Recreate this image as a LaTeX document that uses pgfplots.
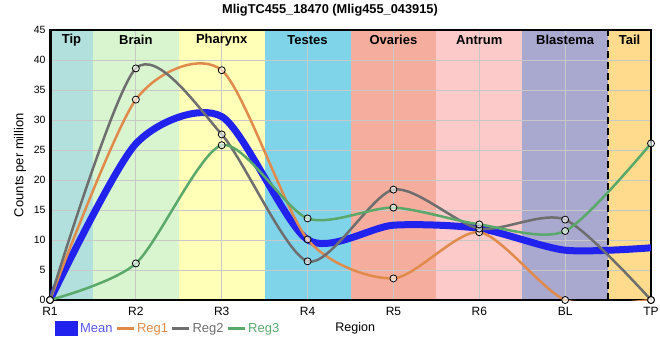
\documentclass[border=0pt]{standalone}
\usepackage{pgfplots}
\pgfplotsset{compat=1.18}
\usepackage{fontspec}
\setmainfont{Liberation Sans}
\definecolor{tipc}{HTML}{B2E0DC}
\definecolor{brainc}{HTML}{D8F5D0}
\definecolor{pharc}{HTML}{FFFFB8}
\definecolor{testc}{HTML}{80D4EA}
\definecolor{ovac}{HTML}{F5AE9E}
\definecolor{antc}{HTML}{FDCACA}
\definecolor{blac}{HTML}{A9A8CF}
\definecolor{tailc}{HTML}{FEDB8D}
\definecolor{meanc}{HTML}{2222EE}
\definecolor{reg1c}{HTML}{E08B4C}
\definecolor{reg2c}{HTML}{6E6E6E}
\definecolor{reg3c}{HTML}{5BA86B}
\definecolor{gridc}{HTML}{C8C8C8}
\begin{document}
\begin{tikzpicture}[x=1pt,y=1pt]
\path[use as bounding box] (0,0) rectangle (660,360);
\node[font=\bfseries\fontsize{12.8}{14}\selectfont] at (330,350) {MligTC455\_18470 (Mlig455\_043915)};
% background bands (region colours)
\fill[tipc] (50,60) rectangle (92.93,330);
\fill[brainc] (92.93,60) rectangle (178.79,330);
\fill[pharc] (178.79,60) rectangle (264.64,330);
\fill[testc] (264.64,60) rectangle (350.5,330);
\fill[ovac] (350.5,60) rectangle (436.36,330);
\fill[antc] (436.36,60) rectangle (522.21,330);
\fill[blac] (522.21,60) rectangle (608.07,330);
\fill[tailc] (608.07,60) rectangle (651,330);
\begin{axis}[
  at={(50pt,60pt)}, anchor=south west,
  width=601pt, height=270pt, scale only axis,
  xmin=0, xmax=7, ymin=0, ymax=45,
  xtick={0,...,7}, xticklabels={R1,R2,R3,R4,R5,R6,BL,TP},
  ytick={0,5,...,45},
  grid=major, grid style={draw=gridc, line width=1pt},
  major tick length=0pt,
  axis line style={line width=1.2pt},
  /pgf/number format/assume math mode=true,
  yticklabel style={font=\fontsize{10.5}{12}\selectfont, xshift=-1pt},
  xticklabel style={font=\fontsize{12}{14}\selectfont, yshift=-4pt},
  ylabel={Counts per million},
  ylabel style={at={(axis description cs:-0.05,0.5)}, anchor=center, font=\fontsize{13}{15}\selectfont},
  xlabel={Region},
  xlabel style={at={(axis description cs:0.469,-0.105)}, anchor=west, font=\fontsize{12.5}{14}\selectfont},
  legend style={at={(axis description cs:0.008,-0.105)}, anchor=west, draw=none, fill=none,
    font=\fontsize{13}{15}\selectfont, legend columns=-1,
    /tikz/every even column/.append style={column sep=1pt},
    /tikz/every odd column/.append style={column sep=0pt},
    inner sep=0pt},
  legend cell align=left,
]
\draw[line width=3pt] (rel axis cs:0,0) -- (rel axis cs:0,1);
\draw[line width=3pt] (rel axis cs:0,0) -- (rel axis cs:1,0);
\draw[black, line width=2.5pt, dash pattern=on 7pt off 4pt] (axis cs:6.5,0) -- (axis cs:6.5,45);
\node[font=\bfseries\fontsize{13}{15}\selectfont] at (axis cs:0.25,43.3) {Tip};
\node[font=\bfseries\fontsize{13}{15}\selectfont] at (axis cs:1,43.3) {Brain};
\node[font=\bfseries\fontsize{13}{15}\selectfont] at (axis cs:2,43.3) {Pharynx};
\node[font=\bfseries\fontsize{13}{15}\selectfont] at (axis cs:3,43.3) {Testes};
\node[font=\bfseries\fontsize{13}{15}\selectfont] at (axis cs:4,43.3) {Ovaries};
\node[font=\bfseries\fontsize{13}{15}\selectfont] at (axis cs:5,43.3) {Antrum};
\node[font=\bfseries\fontsize{13}{15}\selectfont] at (axis cs:6,43.3) {Blastema};
\node[font=\bfseries\fontsize{13}{15}\selectfont] at (axis cs:6.75,43.3) {Tail};
\addplot[meanc, line width=7pt, smooth, tension=0.45,
  legend image code/.code={\fill[meanc] (0pt,-4pt) rectangle (16pt,4pt);}]
  coordinates {(0,0)(1,26.03)(2,30.57)(3,10.05)(4,12.47)(5,11.93)(6,8.3)(7,8.7)};
\addlegendentry{\textcolor{meanc!75!white}{Mean}}
\addplot[reg1c, line width=2.5pt, smooth, tension=0.45, mark=*, mark size=3.5pt,
  mark options={draw=black, fill=white, fill opacity=0.6, line width=0.8pt},
  legend image code/.code={\draw[reg1c, line width=2.5pt] (0pt,0pt) -- (17pt,0pt);}]
  coordinates {(0,0)(1,33.4)(2,38.3)(3,10.1)(4,3.6)(5,11.3)(6,0)(7,0)};
\addlegendentry{\textcolor{reg1c}{Reg1}}
\addplot[reg2c, line width=2.5pt, smooth, tension=0.45, mark=*, mark size=3.5pt,
  mark options={draw=black, fill=white, fill opacity=0.6, line width=0.8pt},
  legend image code/.code={\draw[reg2c, line width=2.5pt] (0pt,0pt) -- (17pt,0pt);}]
  coordinates {(0,0)(1,38.6)(2,27.6)(3,6.45)(4,18.4)(5,11.9)(6,13.4)(7,0)};
\addlegendentry{\textcolor{reg2c}{Reg2}}
\addplot[reg3c, line width=2.5pt, smooth, tension=0.45, mark=*, mark size=3.5pt,
  mark options={draw=black, fill=white, fill opacity=0.6, line width=0.8pt},
  legend image code/.code={\draw[reg3c, line width=2.5pt] (0pt,0pt) -- (17pt,0pt);}]
  coordinates {(0,0)(1,6.1)(2,25.8)(3,13.6)(4,15.4)(5,12.6)(6,11.5)(7,26.1)};
\addlegendentry{\textcolor{reg3c}{Reg3}}
\end{axis}
\end{tikzpicture}
\end{document}
